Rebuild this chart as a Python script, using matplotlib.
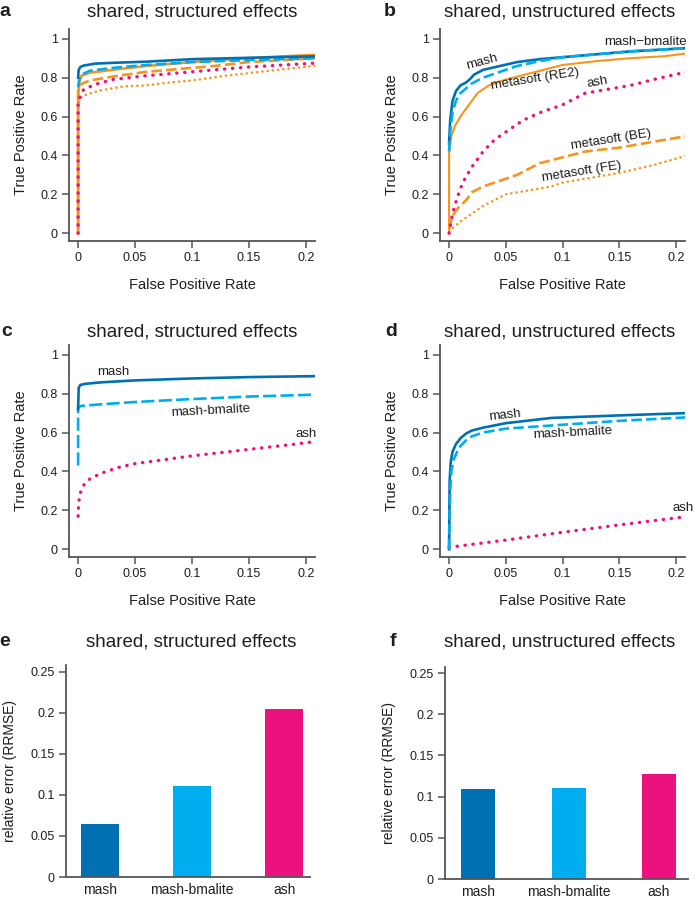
"""
    mash vs ash vs metasoft : courbes ROC et erreurs RRMSE
"""

import matplotlib
matplotlib.use("Agg")
import matplotlib.pyplot as plt

plt.rcParams['font.family'] = ['Liberation Sans', 'DejaVu Sans']

W, H = 696, 900

MASH = "#0070b3"
BMALITE = "#00aeef"
ASH = "#eb1280"
ORANGE = "#f7941d"
SPINE = "#555555"
TXT = "#1e1e1e"

# ---- panel a : shared, structured (fpr, tpr) ----
a_mash_fpr = [0, 0.0005, 0.002, 0.005, 0.015, 0.03, 0.06, 0.1, 0.15, 0.21]
a_mash_tpr = [0.8, 0.84, 0.855, 0.862, 0.872, 0.876, 0.882, 0.895, 0.902, 0.91]
a_bmal_fpr = [0, 0.001, 0.003, 0.01, 0.03, 0.06, 0.1, 0.15, 0.21]
a_bmal_tpr = [0.75, 0.79, 0.815, 0.835, 0.85, 0.865, 0.88, 0.89, 0.9]
a_re2_fpr = [0, 0, 0.001, 0.003, 0.01, 0.03, 0.06, 0.1, 0.15, 0.21]
a_re2_tpr = [0, 0.7, 0.78, 0.81, 0.825, 0.84, 0.86, 0.88, 0.9, 0.918]
a_be_fpr = [0, 0, 0.002, 0.01, 0.03, 0.06, 0.09, 0.12, 0.15, 0.18, 0.21]
a_be_tpr = [0, 0.74, 0.765, 0.785, 0.805, 0.83, 0.845, 0.86, 0.88, 0.89, 0.9]
a_ash_fpr = [0, 0, 0.002, 0.005, 0.015, 0.03, 0.06, 0.1, 0.15, 0.21]
a_ash_tpr = [0, 0.66, 0.71, 0.74, 0.765, 0.79, 0.81, 0.83, 0.855, 0.875]
a_fe_fpr = [0, 0, 0.002, 0.008, 0.02, 0.04, 0.06, 0.08, 0.1, 0.13, 0.16, 0.21]
a_fe_tpr = [0, 0.66, 0.695, 0.715, 0.735, 0.755, 0.76, 0.775, 0.785, 0.81, 0.83, 0.862]

# ---- panel b : shared, unstructured ----
b_mash_fpr = [0, 0.001, 0.003, 0.006, 0.01, 0.015, 0.018, 0.022, 0.03, 0.045, 0.06, 0.08, 0.1, 0.13, 0.16, 0.19, 0.21]
b_mash_tpr = [0.46, 0.58, 0.68, 0.73, 0.76, 0.775, 0.79, 0.815, 0.84, 0.86, 0.88, 0.895, 0.905, 0.92, 0.935, 0.945, 0.952]
b_bmal_fpr = [0, 0.001, 0.003, 0.006, 0.01, 0.015, 0.02, 0.03, 0.045, 0.06, 0.08, 0.1, 0.13, 0.16, 0.19, 0.21]
b_bmal_tpr = [0.42, 0.52, 0.62, 0.68, 0.72, 0.745, 0.77, 0.8, 0.83, 0.86, 0.885, 0.905, 0.92, 0.935, 0.945, 0.952]
b_re2_fpr = [0, 0, 0.002, 0.005, 0.01, 0.015, 0.02, 0.025, 0.035, 0.05, 0.07, 0.1, 0.13, 0.16, 0.19, 0.21]
b_re2_tpr = [0, 0.41, 0.5, 0.55, 0.6, 0.64, 0.68, 0.72, 0.76, 0.79, 0.82, 0.865, 0.885, 0.9, 0.91, 0.925]
b_ash_fpr = [0, 0.003, 0.007, 0.012, 0.02, 0.03, 0.04, 0.05, 0.065, 0.08, 0.1, 0.12, 0.14, 0.16, 0.18, 0.21]
b_ash_tpr = [0, 0.1, 0.18, 0.26, 0.34, 0.42, 0.48, 0.52, 0.58, 0.62, 0.66, 0.72, 0.74, 0.76, 0.79, 0.83]
b_be_fpr = [0, 0.003, 0.008, 0.015, 0.02, 0.03, 0.04, 0.05, 0.06, 0.08, 0.1, 0.12, 0.15, 0.18, 0.21]
b_be_tpr = [0.02, 0.09, 0.13, 0.17, 0.21, 0.24, 0.26, 0.28, 0.3, 0.36, 0.39, 0.42, 0.44, 0.47, 0.5]
b_fe_fpr = [0, 0.004, 0.01, 0.02, 0.03, 0.04, 0.05, 0.07, 0.09, 0.1, 0.12, 0.15, 0.18, 0.21]
b_fe_tpr = [0.01, 0.03, 0.06, 0.1, 0.14, 0.17, 0.2, 0.22, 0.24, 0.26, 0.28, 0.31, 0.35, 0.4]

# ---- panel c : shared, structured (mash, bmalite, ash) ----
c_mash_fpr = [0, 0.0005, 0.002, 0.006, 0.02, 0.05, 0.1, 0.15, 0.21]
c_mash_tpr = [0.72, 0.83, 0.845, 0.85, 0.858, 0.868, 0.878, 0.885, 0.89]
c_bmal_fpr = [0, 0, 0.003, 0.02, 0.05, 0.1, 0.15, 0.21]
c_bmal_tpr = [0.43, 0.73, 0.737, 0.745, 0.757, 0.772, 0.785, 0.795]
c_ash_fpr = [0, 0.0005, 0.002, 0.005, 0.01, 0.02, 0.035, 0.05, 0.075, 0.1, 0.13, 0.16, 0.19, 0.21]
c_ash_tpr = [0.17, 0.24, 0.29, 0.33, 0.36, 0.39, 0.42, 0.44, 0.46, 0.48, 0.5, 0.52, 0.54, 0.555]

# ---- panel d : shared, unstructured (mash, bmalite, ash) ----
d_mash_fpr = [0, 0.0005, 0.0015, 0.003, 0.006, 0.01, 0.015, 0.02, 0.03, 0.05, 0.09, 0.15, 0.21]
d_mash_tpr = [0, 0.35, 0.45, 0.5, 0.54, 0.57, 0.595, 0.61, 0.625, 0.648, 0.675, 0.688, 0.7]
d_bmal_fpr = [0, 0.001, 0.002, 0.004, 0.007, 0.01, 0.015, 0.02, 0.03, 0.05, 0.1, 0.15, 0.21]
d_bmal_tpr = [0, 0.3, 0.4, 0.46, 0.5, 0.53, 0.56, 0.58, 0.6, 0.62, 0.64, 0.66, 0.678]
d_ash_fpr = [0, 0.05, 0.1, 0.15, 0.21]
d_ash_tpr = [0.01, 0.047, 0.087, 0.125, 0.168]

# ---- panels e, f : RRMSE ----
methods = ["mash", "mash-bmalite", "ash"]
e_rrmse = [0.065, 0.111, 0.205]
f_rrmse = [0.109, 0.110, 0.128]
bar_colors = [MASH, BMALITE, ASH]

fig = plt.figure(figsize=(W / 100, H / 100), dpi=100)


def px_axes(x0, y0, x1, y1):
    # axes placées en pixels (origine en haut à gauche)
    return fig.add_axes([x0 / W, 1 - y1 / H, (x1 - x0) / W, (y1 - y0) / H])


def style(ax):
    for s in ["top", "right"]:
        ax.spines[s].set_visible(False)
    for s in ["left", "bottom"]:
        ax.spines[s].set_color(SPINE)
        ax.spines[s].set_linewidth(1.3)
    ax.tick_params(direction="out", length=5, width=1.1, color=SPINE,
                   labelsize=9, labelcolor=TXT, pad=3)


def roc_axes(x0, y0, x1, y1):
    ax = px_axes(x0, y0, x1, y1)
    style(ax)
    ax.set_xlim(-0.008, 0.208)
    ax.set_ylim(-0.04, 1.05)
    ax.set_xticks([0, 0.05, 0.1, 0.15, 0.2])
    ax.set_xticklabels(["0", "0.05", "0.1", "0.15", "0.2"])
    ax.set_yticks([0, 0.2, 0.4, 0.6, 0.8, 1])
    ax.set_yticklabels(["0", "0.2", "0.4", "0.6", "0.8", "1"])
    ax.set_xlabel("False Positive Rate", fontsize=10.5, color=TXT, labelpad=10)
    ax.set_ylabel("True Positive Rate", fontsize=10.5, color=TXT, labelpad=9)
    return ax


solid = dict(linestyle="-", linewidth=1.9)
dashed = dict(linestyle=(0, (4, 1.6)), linewidth=1.9)
dotted = dict(linestyle=(0, (0.1, 2.3)), linewidth=2.4, dash_capstyle="round")
fine_dot = dict(linestyle=(0, (0.1, 2.0)), linewidth=1.8, dash_capstyle="round")


def lbl(ax, x, y, s, rot=0, ha="center"):
    ax.text(x, y, s, fontsize=9.5, color=TXT, rotation=rot, ha=ha, va="center",
            rotation_mode="anchor")


# a
ax = roc_axes(69, 29, 315, 241)
ax.plot(a_fe_fpr, a_fe_tpr, color=ORANGE, **fine_dot)
ax.plot(a_be_fpr, a_be_tpr, color=ORANGE, **dashed)
ax.plot(a_re2_fpr, a_re2_tpr, color=ORANGE, **solid)
ax.plot(a_ash_fpr, a_ash_tpr, color=ASH, **dotted)
ax.plot(a_bmal_fpr, a_bmal_tpr, color=BMALITE, **dashed)
ax.plot(a_mash_fpr, a_mash_tpr, color=MASH, **solid)

# b
ax = roc_axes(440, 29, 685, 241)
ax.plot(b_fe_fpr, b_fe_tpr, color=ORANGE, **fine_dot)
ax.plot(b_be_fpr, b_be_tpr, color=ORANGE, **dashed)
ax.plot(b_re2_fpr, b_re2_tpr, color=ORANGE, linestyle="-", linewidth=1.5)
ax.plot(b_ash_fpr, b_ash_tpr, color=ASH, **dotted)
ax.plot(b_mash_fpr, b_mash_tpr, color=MASH, **solid)
ax.plot(b_bmal_fpr, b_bmal_tpr, color=BMALITE, **dashed)
lbl(ax, 0.029, 0.88, "mash", rot=15)
lbl(ax, 0.173, 0.985, "mash\u2212bmalite")
lbl(ax, 0.076, 0.79, "metasoft (RE2)", rot=9)
lbl(ax, 0.131, 0.775, "ash", rot=10)
lbl(ax, 0.143, 0.48, "metasoft (BE)", rot=9)
lbl(ax, 0.117, 0.315, "metasoft (FE)", rot=9)

# c
ax = roc_axes(69, 345, 315, 557)
ax.plot(c_ash_fpr, c_ash_tpr, color=ASH, **dotted)
ax.plot(c_bmal_fpr, c_bmal_tpr, color=BMALITE, linestyle=(0, (5, 1.6)), linewidth=1.9)
ax.plot(c_mash_fpr, c_mash_tpr, color=MASH, **solid)
lbl(ax, 0.031, 0.912, "mash")
lbl(ax, 0.116, 0.71, "mash-bmalite", rot=3)
lbl(ax, 0.2, 0.59, "ash")

# d
ax = roc_axes(440, 345, 685, 557)
ax.plot(d_ash_fpr, d_ash_tpr, color=ASH, **dotted)
ax.plot(d_mash_fpr, d_mash_tpr, color=MASH, **solid)
ax.plot(d_bmal_fpr, d_bmal_tpr, color=BMALITE, **dashed)
lbl(ax, 0.049, 0.69, "mash", rot=6)
lbl(ax, 0.109, 0.6, "mash-bmalite", rot=3)
lbl(ax, 0.206, 0.21, "ash")


def bar_axes(x0, y0, x1, y1, vals, xlo, xhi, ytop, width):
    ax = px_axes(x0, y0, x1, y1)
    style(ax)
    pos = range(len(methods))
    ax.bar(pos, vals, width=width, color=bar_colors)
    ax.set_xlim(xlo, xhi)
    ax.set_ylim(0, ytop)
    ax.set_xticks(list(pos))
    ax.set_xticklabels(methods, fontsize=10, color=TXT)
    ax.tick_params(axis="x", length=0, pad=4)
    ax.set_yticks([0, 0.05, 0.1, 0.15, 0.2, 0.25])
    ax.set_yticklabels(["0", "0.05", "0.1", "0.15", "0.2", "0.25"])
    ax.set_ylabel("relative error (RRMSE)", fontsize=10, color=TXT, labelpad=10)
    return ax


bar_axes(66, 665, 310, 877, e_rrmse, -0.37, 2.28, 0.2585, 0.41)
bar_axes(445, 667, 688, 879, f_rrmse, -0.365, 2.32, 0.2573, 0.375)

# titres et lettres de panneaux
titles = [("a", 5, 12, 192, "shared, structured effects"),
          ("b", 390, 12, 560, "shared, unstructured effects"),
          ("c", 7, 332, 192, "shared, structured effects"),
          ("d", 391, 332, 560, "shared, unstructured effects"),
          ("e", 5, 642, 191, "shared, structured effects"),
          ("f", 393, 642, 560, "shared, unstructured effects")]
for letter, lx, ty, tx, t in titles:
    fig.text(lx / W, 1 - ty / H, letter, fontsize=14, fontweight="bold",
             color=TXT, ha="center", va="center")
    fig.text(tx / W, 1 - ty / H, t, fontsize=13.5, color=TXT,
             ha="center", va="center")

fig.savefig("out.png", dpi=100)
